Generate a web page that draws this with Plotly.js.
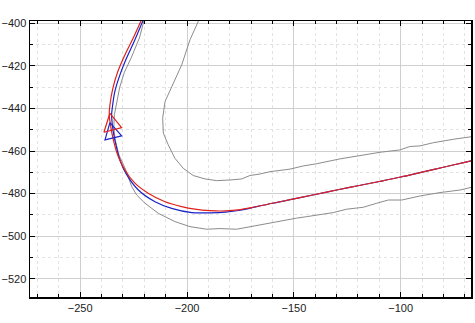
<!DOCTYPE html>
<html>
<head>
<meta charset="utf-8">
<script src="https://cdn.plot.ly/plotly-3.0.1.min.js"></script>
<style>html,body{margin:0;padding:0;background:#fff;}#chart{width:475px;height:323px;}</style>
</head>
<body>
<div id="chart"></div>
<script>
// Outer road edge (gray)
const grayOuterX = [-219.8,-222.3,-226.2,-229.3,-231.5,-233.0,-234.0,-234.3,-233.6,-231.8,-228.6,-225.9,-223.6,-219.7,-213.5,-205.7,-198.6,-190.8,-184.6,-176.8,-170.6,-162.7,-155.0,-148.7,-144.0,-137.8,-131.6,-125.3,-117.5,-111.2,-105.8,-99.5,-91.0,-81.6,-72.2,-66.8,-60.0];
const grayOuterY = [-397.5,-407.0,-416.4,-423.0,-430.0,-437.0,-443.0,-449.0,-455.0,-462.0,-469.0,-476.7,-480.6,-484.5,-489.2,-493.1,-495.5,-496.7,-496.4,-496.7,-495.5,-494.2,-492.7,-491.5,-490.8,-490.0,-488.9,-487.3,-486.4,-484.5,-483.0,-483.0,-481.1,-479.5,-478.3,-477.0,-476.0];
// Inner road edge (gray)
const grayInnerX = [-194.0,-198.6,-202.5,-207.2,-210.3,-211.4,-211.1,-208.8,-205.7,-201.8,-197.1,-191.6,-186.1,-179.9,-174.4,-170.6,-165.9,-161.2,-151.8,-145.6,-139.5,-128.4,-119.1,-109.7,-100.4,-95.7,-91.0,-84.7,-75.4,-67.6,-60.0];
const grayInnerY = [-397.5,-407.8,-419.6,-429.8,-436.8,-444.6,-451.6,-457.1,-463.4,-468.1,-471.5,-473.1,-473.9,-473.6,-473.1,-471.5,-470.8,-469.7,-468.5,-467.0,-466.0,-463.7,-462.0,-460.6,-459.5,-457.9,-457.6,-456.1,-454.5,-453.5,-452.3];
// Red trajectory
const redX = [-220.9,-225.2,-229.1,-232.4,-234.7,-236.1,-236.4,-235.8,-234.5,-232.2,-229.1,-224.4,-218.2,-210.3,-202.5,-196.3,-189.3,-182.0,-175.0,-170.0,-160.0,-150.0,-140.0,-130.0,-120.0,-110.0,-100.0,-90.0,-80.0,-70.0,-60.0];
const redY = [-397.5,-407.0,-414.9,-422.7,-430.5,-438.4,-443.0,-448.0,-454.8,-462.6,-468.9,-475.1,-479.8,-483.8,-486.1,-487.3,-488.0,-488.1,-487.5,-486.6,-484.5,-482.5,-480.4,-478.3,-476.3,-474.3,-472.2,-469.9,-467.6,-465.3,-463.0];
// Blue trajectory
const blueX = [-220.1,-224.4,-228.3,-231.4,-233.8,-235.0,-235.3,-234.8,-233.8,-231.4,-228.6,-222.8,-215.0,-207.2,-197.8,-189.3,-182.0,-175.0,-170.0,-160.0,-150.0,-140.0,-130.0,-120.0,-110.0,-100.0,-90.0,-80.0,-70.0,-60.0];
const blueY = [-397.5,-407.8,-416.4,-424.3,-432.1,-439.9,-443.0,-449.0,-454.8,-464.2,-470.5,-478.3,-483.8,-486.9,-488.9,-489.0,-488.7,-487.8,-486.7,-484.5,-482.5,-480.4,-478.3,-476.3,-474.3,-472.2,-469.9,-467.6,-465.3,-463.0];
// Heading triangles
const redTriX = [-236.1,-230.6,-238.9,-236.1];
const redTriY = [-442.3,-449.0,-451.2,-442.3];
const blueTriX = [-236.1,-230.6,-238.4,-236.1];
const blueTriY = [-446.7,-452.9,-454.8,-446.7];

const gray = '#8c8c8c', red = '#e0221c', blue = '#1c24c8';
const traces = [
  {x: grayOuterX, y: grayOuterY, mode: 'lines', line: {color: gray, width: 1}},
  {x: grayInnerX, y: grayInnerY, mode: 'lines', line: {color: gray, width: 1}},
  {x: blueX, y: blueY, mode: 'lines', line: {color: blue, width: 1.2, shape: 'spline'}},
  {x: redX, y: redY, mode: 'lines', line: {color: red, width: 1.2, shape: 'spline'}},
  {x: blueTriX, y: blueTriY, mode: 'lines', line: {color: blue, width: 1.2}},
  {x: redTriX, y: redTriY, mode: 'lines', line: {color: red, width: 1.2}}
];
const axisCommon = {
  showline: true, linecolor: '#000', linewidth: 1.5, mirror: 'ticks',
  ticks: 'inside', ticklen: 5, tickcolor: '#000', tickwidth: 1,
  showgrid: true, gridcolor: '#cfcfcf', gridwidth: 1, zeroline: false,
  tickfont: {family: 'Liberation Sans, Arial, sans-serif', size: 11, color: '#222'},
  minor: {dtick: 10, ticks: 'inside', ticklen: 3, tickcolor: '#000', showgrid: true, gridcolor: '#e2e2e2', griddash: 'dot'}
};
const layout = {
  width: 475, height: 323,
  margin: {l: 30, r: 4, t: 21, b: 26},
  paper_bgcolor: '#fff', plot_bgcolor: '#fff',
  showlegend: false,
  xaxis: Object.assign({}, axisCommon, {range: [-273.5, -67.1], dtick: 50, tick0: 0}),
  yaxis: Object.assign({}, axisCommon, {range: [-528.5, -399], dtick: 20, tick0: 0})
};
Plotly.newPlot('chart', traces, layout, {staticPlot: true, displayModeBar: false});
</script>
</body>
</html>
